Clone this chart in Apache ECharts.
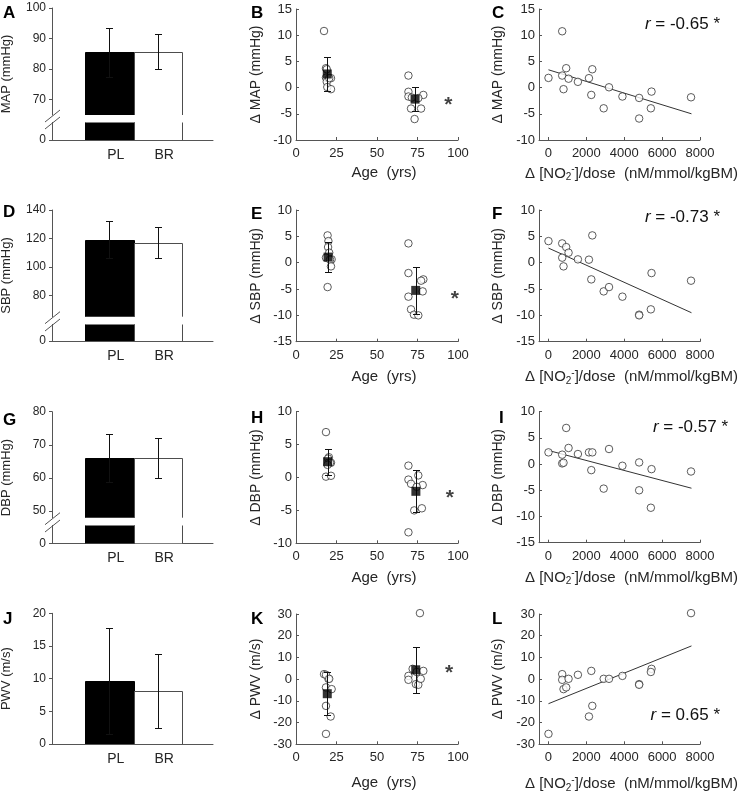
<!DOCTYPE html>
<html>
<head>
<meta charset="utf-8">
<script src="https://cdn.jsdelivr.net/npm/echarts@6.0.0/dist/echarts.min.js"></script>
<style>
html,body{margin:0;padding:0;background:#ffffff;}
#chart{width:740px;height:793px;}
</style>
</head>
<body>
<div id="chart"></div>
<script>
// ================= DATA =================
const barCategories = ['PL', 'BR'];
const mapMean = [85.5, 85.7], mapSD = [8.0, 5.7];
const sbpMean = [119.2, 117.0], sbpSD = [12.8, 10.8];
const dbpMean = [66.0, 66.0], dbpSD = [7.2, 6.0];
const pwvMean = [9.6, 8.1], pwvSD = [8.1, 5.7];

const mapTicks = [70, 80, 90, 100];
const sbpTicks = [80, 100, 120, 140];
const dbpTicks = [50, 60, 70, 80];
const lowerTicks = [0];
const doseTicks = [0, 2000, 4000, 6000, 8000];

// B: ΔMAP vs age
const bYoungAge = [17.3, 18.5, 19.0, 18.5, 21.6, 19.0, 19.3, 21.6, 20.5];
const bYoung    = [10.8, 3.7, 3.5, 1.9, 1.8, 1.1, 0.1, -0.3, 1.8];
const bOldAge   = [69.4, 69.4, 69.4, 78.6, 75.5, 71.5, 71.0, 77.2, 73.2];
const bOld      = [2.3, -0.8, -1.7, -1.4, -2.0, -1.9, -4.0, -4.0, -6.0];
const bGroupAge = [19.3, 73.5], bGroupMean = [2.6, -2.2], bGroupSD = [3.3, 2.3];
const bStar = [94, -2.5];

// E: ΔSBP vs age
const eYoungAge = [19.5, 20.0, 19.8, 20.5, 18.5, 22.0, 21.0, 21.6, 19.5];
const eYoung    = [5.18, 4.1, 2.96, 1.9, 0.95, 0.63, 0.57, -0.7, -4.63];
const eOldAge   = [69.4, 69.4, 78.6, 77.2, 78.2, 69.4, 71.0, 72.8, 75.5];
const eOld      = [3.66, -1.97, -3.17, -3.42, -5.45, -6.45, -8.86, -9.87, -10.0];
const eGroupAge = [19.8, 73.9], eGroupMean = [1.06, -5.26], eGroupSD = [2.9, 4.5];
const eStar = [98, -5.9];

// H: ΔDBP vs age
const hYoungAge = [18.5, 20.3, 19.8, 21.6, 20.0, 21.0, 19.5, 18.5, 21.6];
const hYoung    = [6.9, 3.08, 2.88, 2.24, 2.24, 2.24, 1.92, 0.13, 0.26];
const hOldAge   = [69.4, 69.4, 71.0, 75.5, 78.2, 74.5, 73.0, 77.7, 69.4];
const hOld      = [1.8, -0.32, -0.96, 0.32, -1.15, -1.41, -5.0, -4.68, -8.33];
const hGroupAge = [19.5, 74.0], hGroupMean = [2.4, -2.1], hGroupSD = [2.0, 3.2];
const hStar = [95, -2.4];

// K: ΔPWV vs age
const kYoungAge = [17.3, 20.0, 18.5, 22.0, 18.5, 21.4, 18.5, 18.5, 20.5];
const kYoung    = [2.3, 0.15, -3.8, -4.6, -12.3, -17.2, -25.2, 2.0, 0.15];
const kOldAge   = [76.5, 69.4, 69.4, 74.0, 75.5, 77.0, 72.0, 74.5, 78.6];
const kOld      = [30.4, 1.5, -0.3, -2.3, -2.6, 0.15, 4.75, 3.3, 3.8];
const kGroupAge = [19.3, 73.9], kGroupMean = [-6.7, 4.3], kGroupSD = [9.9, 10.7];
const kStar = [94.5, 5.1];

// C, F, I, L: change vs Δ[NO2-]/dose
const dose   = [0, 725, 725, 795, 936, 1060, 1554, 2137, 2314, 2261, 2915, 3197, 3904, 4787, 4787, 5441, 5405, 7526];
const cMap   = [1.85, 10.75, 2.3, -0.3, 3.7, 1.7, 1.1, 1.8, 3.5, -1.4, -3.95, 0.06, -1.7, -1.97, -5.9, -0.76, -3.95, -1.85];
const fSbp   = [4.1, 0.95, 3.66, -0.7, 2.96, 1.9, 0.63, 0.57, 5.18, -3.17, -5.45, -4.63, -6.45, -9.87, -10.0, -1.97, -8.86, -3.42];
const iDbp   = [2.24, 0.13, 1.8, 0.26, 6.9, 3.08, 1.92, 2.24, 2.24, -1.15, -4.68, 2.88, -0.32, 0.32, -5.0, -0.96, -8.33, -1.41];
const lPwv   = [-25.2, 2.3, -0.3, -4.6, -3.8, 0.15, 2.0, -17.2, -12.3, 3.8, 0.15, 0.15, 1.5, -2.3, -2.6, 4.75, 3.3, 30.4];
const cLine = [[0, 3.4], [7550, -5.0]];
const fLine = [[0, 2.77], [7550, -9.5]];
const iLine = [[0, 2.6], [7550, -4.6]];
const lLine = [[0, -11.3], [7550, 15.3]];
const rLabels = ['-0.65', '-0.73', '-0.57', '0.65'];

// ================= STYLE / LAYOUT =================
const FONT = '"Liberation Sans", Arial, Helvetica, sans-serif';
const TXT = '#262626';
const LINE = '#555555';
const BAR_FILL = ['#000000', '#ffffff'];
const BAR_STROKE = ['#000000', '#4d4d4d'];

const grids = [], xAxes = [], yAxes = [], series = [], graphic = [];
function addGrid(left, top, width, height) {
  grids.push({ left: left, top: top, width: width, height: height, containLabel: false, outerBoundsMode: 'none' });
  return grids.length - 1;
}
function zip(a, b) { return a.map(function (v, i) { return [v, b[i]]; }); }
function hidden(gi, extra) {
  return Object.assign({ gridIndex: gi, type: 'value', show: false, min: 0, max: 1 }, extra || {});
}
const lineStyle = { color: LINE, width: 1 };
const nameStyle = function (size) { return { color: TXT, fontSize: size, fontFamily: FONT }; };
const plain = function (v) { return String(v); };

// ---- custom renderers ----
function crisp(v) { return Math.round(v) + 0.5; }
function barRender(params, api) {
  const cat = api.value(0), v = api.value(1);
  const cs = params.coordSys;
  const c = api.coord([cat, v]);
  const bw = api.size([1, 0])[0];
  const x0 = crisp(c[0] - bw / 2), x1 = crisp(c[0] + bw / 2);
  const yb = cs.y + cs.height;
  let yt = c[1], clipped = false;
  if (yt < cs.y) { yt = cs.y; clipped = true; }
  yt = crisp(yt);
  const idx = params.dataIndex;
  const children = [{ type: 'rect', shape: { x: x0, y: yt, width: x1 - x0, height: yb - yt }, style: { fill: BAR_FILL[idx] } }];
  const st = { stroke: BAR_STROKE[idx], lineWidth: 1, fill: null };
  if (clipped) {
    children.push({ type: 'line', shape: { x1: x0, y1: yt, x2: x0, y2: yb }, style: st });
    children.push({ type: 'line', shape: { x1: x1, y1: yt, x2: x1, y2: yb }, style: st });
  } else {
    children.push({ type: 'polyline', shape: { points: [[x0, yb], [x0, yt], [x1, yt], [x1, yb]] }, style: st });
  }
  return { type: 'group', children: children };
}
function errRender(capW, color) {
  return function (params, api) {
    const x = api.value(0), m = api.value(1), s = api.value(2);
    const top = api.coord([x, m + s]), bot = api.coord([x, m - s]);
    const cx = crisp(top[0]), t = crisp(top[1]), b = crisp(bot[1]);
    const st = { stroke: color, lineWidth: 1 };
    return { type: 'group', children: [
      { type: 'line', shape: { x1: cx, y1: t, x2: cx, y2: b }, style: st },
      { type: 'line', shape: { x1: cx - capW / 2, y1: t, x2: cx + capW / 2, y2: t }, style: st },
      { type: 'line', shape: { x1: cx - capW / 2, y1: b, x2: cx + capW / 2, y2: b }, style: st }
    ] };
  };
}

// ---- bar panels (A, D, G, J) ----
const BL = 52, BW = 161, DL = 85, DW = 97;
function barPanel(p) {
  const hasBreak = !!p.lowerH;
  const fullH = hasBreak ? p.upperH + p.gap + p.lowerH : p.upperH;
  const gF = addGrid(BL, p.top, BW, fullH);
  xAxes.push({ gridIndex: gF, type: 'value', min: 0, max: 1, position: 'bottom',
    axisLine: { show: true, onZero: false, lineStyle: lineStyle }, axisTick: { show: false }, axisLabel: { show: false }, splitLine: { show: false } });
  yAxes.push({ gridIndex: gF, type: 'value', min: 0, max: 1,
    axisLine: { show: false }, axisTick: { show: false }, axisLabel: { show: false }, splitLine: { show: false },
    name: p.yName, nameLocation: 'middle', nameGap: 39, nameTextStyle: nameStyle(13) });
  const gU = addGrid(BL, p.top, BW, p.upperH);
  xAxes.push(hidden(gU));
  const yU = { gridIndex: gU, type: 'value', min: p.min, max: p.max,
    axisLine: { show: true, onZero: false, lineStyle: lineStyle },
    axisTick: { show: true, inside: false, length: 3, lineStyle: lineStyle },
    axisLabel: { color: TXT, fontSize: 12, fontFamily: FONT, margin: 6 },
    splitLine: { show: false } };
  if (p.ticks) { yU.axisTick.customValues = p.ticks; yU.axisLabel.customValues = p.ticks; }
  else { yU.interval = p.interval; }
  yAxes.push(yU);
  const gD = addGrid(DL, p.top, DW, p.upperH);
  const xD = xAxes.length;
  xAxes.push({ gridIndex: gD, type: 'category', data: barCategories, show: !hasBreak,
    axisLine: { show: false }, axisTick: { show: false },
    axisLabel: { color: TXT, fontSize: 14, fontFamily: FONT, margin: 8, padding: [0, 0, 0, 13] } });
  const yD = yAxes.length;
  yAxes.push(hidden(gD, { min: p.min, max: p.max }));
  const barData = p.mean.map(function (m, i) { return [i, m]; });
  const errData = p.mean.map(function (m, i) { return [i, m, p.sd[i]]; });
  series.push({ type: 'custom', xAxisIndex: xD, yAxisIndex: yD, renderItem: barRender, data: barData, z: 2, silent: true });
  series.push({ type: 'custom', xAxisIndex: xD, yAxisIndex: yD, renderItem: errRender(7, '#111'), data: errData, z: 3, silent: true });
  if (hasBreak) {
    const lowTop = p.top + p.upperH + p.gap;
    const gL = addGrid(BL, lowTop, BW, p.lowerH);
    xAxes.push(hidden(gL));
    yAxes.push({ gridIndex: gL, type: 'value', min: 0, max: 1,
      axisLine: { show: true, onZero: false, lineStyle: lineStyle },
      axisTick: { show: true, inside: false, length: 3, lineStyle: lineStyle, customValues: lowerTicks },
      axisLabel: { color: TXT, fontSize: 12, fontFamily: FONT, margin: 6, customValues: lowerTicks },
      splitLine: { show: false } });
    const gLD = addGrid(DL, lowTop, DW, p.lowerH);
    const xLD = xAxes.length;
    xAxes.push({ gridIndex: gLD, type: 'category', data: barCategories,
      axisLine: { show: false }, axisTick: { show: false },
      axisLabel: { color: TXT, fontSize: 14, fontFamily: FONT, margin: 8, padding: [0, 0, 0, 13] } });
    const yLD = yAxes.length;
    yAxes.push(hidden(gLD, { min: 0, max: 1 }));
    series.push({ type: 'custom', xAxisIndex: xLD, yAxisIndex: yLD, renderItem: barRender, data: barData, z: 2, silent: true });
    const gapTop = p.top + p.upperH, gapBot = lowTop;
    [gapTop + 1, gapBot + 1].forEach(function (cy) {
      graphic.push({ type: 'line', shape: { x1: BL - 7, y1: cy + 6, x2: BL + 8, y2: cy - 6 }, style: { stroke: LINE, lineWidth: 1 }, z: 10 });
    });
    graphic.push({ type: 'rect', shape: { x: BL - 1, y: gapTop + 1, width: 2, height: gapBot - gapTop - 1 }, style: { fill: '#fff' }, z: 9 });
  }
  graphic.push({ type: 'text', x: 3, y: p.letterY, style: { text: p.letter, fontSize: 17, fontWeight: 'bold', fontFamily: FONT, fill: '#000', verticalAlign: 'middle' } });
}

// ---- scatter panels ----
function scatterPanel(p) {
  const gi = addGrid(p.left, p.top, p.width, p.height);
  const isAge = p.kind === 'age';
  const xa = { gridIndex: gi, type: 'value', min: isAge ? 0 : -500, max: isAge ? 100 : 8000,
    axisLine: { show: true, onZero: false, lineStyle: lineStyle },
    axisTick: { show: true, inside: true, length: 3, lineStyle: lineStyle },
    axisLabel: { color: TXT, fontSize: 13, fontFamily: FONT, margin: 7, formatter: plain },
    splitLine: { show: false },
    name: p.xName, nameLocation: 'middle', nameGap: p.xNameGap,
    nameTextStyle: Object.assign(nameStyle(15), { padding: [0, 0, 0, p.xNameShift * 2],
      rich: { sub: { fontSize: 10, fontFamily: FONT, color: TXT, verticalAlign: 'bottom', lineHeight: 18 },
              sup: { fontSize: 10, fontFamily: FONT, color: TXT, verticalAlign: 'top', lineHeight: 18 } } }) };
  if (isAge) xa.interval = 25; else { xa.axisTick.customValues = doseTicks; xa.axisLabel.customValues = doseTicks; }
  const xi = xAxes.length; xAxes.push(xa);
  const yi = yAxes.length;
  yAxes.push({ gridIndex: gi, type: 'value', min: p.yMin, max: p.yMax, interval: p.yInterval,
    axisLine: { show: true, onZero: false, lineStyle: lineStyle },
    axisTick: { show: true, inside: true, length: 3, lineStyle: lineStyle },
    axisLabel: { color: TXT, fontSize: 13, fontFamily: FONT, margin: 4 },
    splitLine: { show: false },
    name: p.yName, nameLocation: 'middle', nameGap: p.yNameGap, nameTextStyle: nameStyle(14) });
  const circle = { type: 'scatter', xAxisIndex: xi, yAxisIndex: yi, symbol: 'circle', symbolSize: 7.5, clip: false,
    itemStyle: { color: '#ffffff', borderColor: '#333333', borderWidth: 1 }, silent: true, z: 2 };
  p.groups.forEach(function (g) { series.push(Object.assign({}, circle, { data: g })); });
  if (p.line) {
    series.push({ type: 'line', xAxisIndex: xi, yAxisIndex: yi, data: p.line, symbol: 'none', silent: true,
      lineStyle: { color: '#333333', width: 1 }, z: 1 });
  }
  if (p.means) {
    const errData = p.means.age.map(function (a, i) { return [a, p.means.mean[i], p.means.sd[i]]; });
    series.push({ type: 'custom', xAxisIndex: xi, yAxisIndex: yi, renderItem: errRender(7, '#111'), data: errData, z: 3, silent: true });
    series.push({ type: 'scatter', xAxisIndex: xi, yAxisIndex: yi, symbol: 'rect', symbolSize: 9,
      itemStyle: { color: '#000' }, data: zip(p.means.age, p.means.mean), z: 4, silent: true });
  }
  if (p.star) {
    series.push({ type: 'scatter', xAxisIndex: xi, yAxisIndex: yi, symbolSize: 1, itemStyle: { color: 'rgba(0,0,0,0)' },
      data: [p.star], silent: true, z: 5,
      label: { show: true, formatter: '*', position: 'inside', fontSize: 21, fontWeight: 'bold', color: '#111', fontFamily: FONT, offset: [0, 5] } });
  }
  if (p.r) {
    graphic.push({ type: 'text', x: p.r.x, y: p.r.y, z: 10, style: {
      text: '{i|r} = ' + p.r.text + ' *', fontSize: 17, fontFamily: FONT, fill: '#111', align: 'right', verticalAlign: 'middle',
      rich: { i: { fontStyle: 'italic', fontSize: 17, fontFamily: FONT, fill: '#111' } } } });
  }
  graphic.push({ type: 'text', x: p.letterX, y: p.letterY, style: { text: p.letter, fontSize: 17, fontWeight: 'bold', fontFamily: FONT, fill: '#000', verticalAlign: 'middle' } });
}

// ---- build ----
barPanel({ top: 8, upperH: 107, gap: 7, lowerH: 18, min: 65, max: 100, ticks: mapTicks, mean: mapMean, sd: mapSD, yName: 'MAP (mmHg)', letter: 'A', letterY: 13 });
barPanel({ top: 210, upperH: 106.7, gap: 7.3, lowerH: 17, min: 65, max: 140, ticks: sbpTicks, mean: sbpMean, sd: sbpSD, yName: 'SBP (mmHg)', letter: 'D', letterY: 212 });
barPanel({ top: 411.7, upperH: 106, gap: 7.3, lowerH: 18.3, min: 48, max: 80, ticks: dbpTicks, mean: dbpMean, sd: dbpSD, yName: 'DBP (mmHg)', letter: 'G', letterY: 420 });
barPanel({ top: 613.3, upperH: 130.7, min: 0, max: 20, interval: 5, mean: pwvMean, sd: pwvSD, yName: 'PWV (m/s)', letter: 'J', letterY: 619 });

const AGE_L = 296, AGE_W = 162, DOSE_L = 539, DOSE_W = 161;
const doseName = 'Δ [NO{sub|2}{sup|-}]/dose  (nM/mmol/kgBM)';
const rows = [
  { top: 9, h: 131, yMin: -10, yMax: 15, yInt: 5, nameGap: 25.5, yName: 'Δ MAP (mmHg)', letters: ['B', 'C'], ly: 13 },
  { top: 210, h: 131.7, yMin: -15, yMax: 10, yInt: 5, nameGap: 27.5, yName: 'Δ SBP (mmHg)', letters: ['E', 'F'], ly: 214 },
  { top: 411.7, h: 131.6, yMin: -10, yMax: 10, yInt: 5, nameGap: 27, yName: 'Δ DBP (mmHg)', letters: ['H', 'I'], ly: 418 },
  { top: 614, h: 130.3, yMin: -30, yMax: 30, yInt: 10, nameGap: 31.5, yName: 'Δ PWV (m/s)', letters: ['K', 'L'], ly: 619 }
];
const ageGroups = [
  [zip(bYoungAge, bYoung), zip(bOldAge, bOld)],
  [zip(eYoungAge, eYoung), zip(eOldAge, eOld)],
  [zip(hYoungAge, hYoung), zip(hOldAge, hOld)],
  [zip(kYoungAge, kYoung), zip(kOldAge, kOld)]
];
const ageMeans = [
  { age: bGroupAge, mean: bGroupMean, sd: bGroupSD },
  { age: eGroupAge, mean: eGroupMean, sd: eGroupSD },
  { age: hGroupAge, mean: hGroupMean, sd: hGroupSD },
  { age: kGroupAge, mean: kGroupMean, sd: kGroupSD }
];
const stars = [bStar, eStar, hStar, kStar];
const doseVals = [cMap, fSbp, iDbp, lPwv];
const doseLines = [cLine, fLine, iLine, lLine];
const rPos = [{ x: 720, y: 24 }, { x: 720, y: 217 }, { x: 728, y: 427 }, { x: 720, y: 715 }];

rows.forEach(function (r, i) {
  scatterPanel({ kind: 'age', left: AGE_L, top: r.top, width: AGE_W, height: r.h, yMin: r.yMin, yMax: r.yMax, yInterval: r.yInt,
    xName: 'Age  (yrs)', xNameGap: r.nameGap, xNameShift: 7, yName: r.yName, yNameGap: 33,
    groups: ageGroups[i], means: ageMeans[i], star: stars[i], letter: r.letters[0], letterX: 251, letterY: r.ly });
  scatterPanel({ kind: 'dose', left: DOSE_L, top: r.top, width: DOSE_W, height: i === 2 ? 131 : r.h,
    yMin: i === 2 ? -15 : r.yMin, yMax: r.yMax, yInterval: r.yInt,
    xName: doseName, xNameGap: r.nameGap - 1, xNameShift: 12, yName: r.yName, yNameGap: 34,
    groups: [zip(dose, doseVals[i])], line: doseLines[i],
    r: { x: rPos[i].x, y: rPos[i].y, text: rLabels[i] },
    letter: r.letters[1], letterX: i === 2 ? 499 : 492, letterY: r.ly });
});

const chart = echarts.init(document.getElementById('chart'), null, { renderer: 'canvas' });
chart.setOption({
  backgroundColor: '#ffffff',
  animation: false,
  grid: grids,
  xAxis: xAxes,
  yAxis: yAxes,
  series: series,
  graphic: graphic
});
</script>
</body>
</html>
